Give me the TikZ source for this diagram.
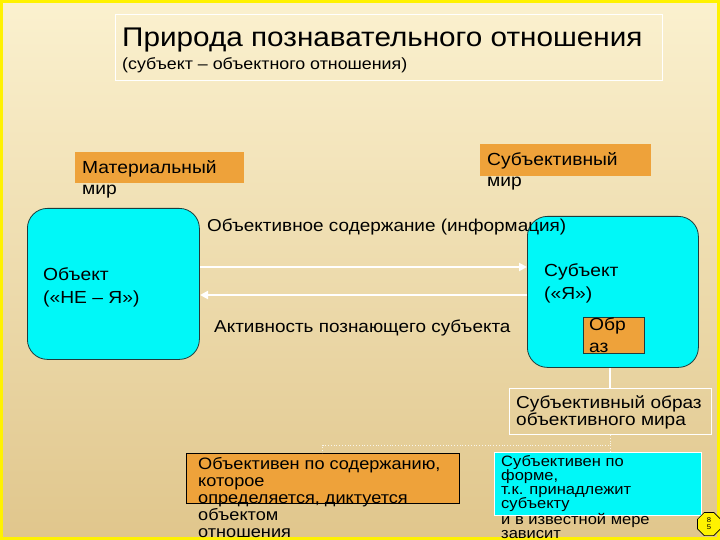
\documentclass[tikz,border=0pt]{standalone}
\usepackage{fontspec}
\setmainfont[FakeStretch=1.1]{Liberation Sans}
\usetikzlibrary{shapes.geometric,arrows.meta}
\definecolor{bgtop}{HTML}{FBF1CF}
\definecolor{bgbot}{HTML}{E0C68C}
\definecolor{orng}{HTML}{EEA23A}
\definecolor{cyanbox}{HTML}{00F8F8}
\definecolor{edge}{HTML}{1E3C3C}
\tikzset{
  orbox/.style={draw=none, fill=orng, inner sep=0pt, anchor=north west},
  bigbox/.style={draw=edge, fill=cyanbox, rounded corners=20pt, line width=0.8pt, inner sep=0pt, anchor=north west},
  txt/.style={anchor=base west, inner sep=0pt, align=left},
  arr/.style={draw=white, line width=2pt, -{Triangle[length=8pt,width=8pt]}},
  thinwhite/.style={draw=white, line width=1pt},
}
\begin{document}
\begin{tikzpicture}[x=1pt,y=-1pt]
\useasboundingbox (0,0) rectangle (720,540);
\shade[top color=bgtop, bottom color=bgbot] (0,0) rectangle (720,540);
\draw[yellow, line width=3pt] (1.5,1.5) rectangle (718.5,538.5);

% title
\node[thinwhite, draw, anchor=north west, minimum width=547pt, minimum height=66pt, inner sep=0pt] (title) at (115,14) {};
\node[txt, font=\fontsize{27}{30}\selectfont] (t1) at (122,47) {Природа познавательного отношения};
\node[txt, font=\fontsize{16.2}{18}\selectfont] (t2) at (122,70) {(субъект – объектного отношения)};

% world labels
\node[orbox, minimum width=169pt, minimum height=31pt] (matbox) at (75,152) {};
\node[txt, font=\fontsize{17.5}{21}\selectfont] (mat) at (82,195) {Материальный\\мир};
\node[orbox, minimum width=171pt, minimum height=32pt] (subbox) at (480,144) {};
\node[txt, font=\fontsize{17.5}{21}\selectfont] (sub) at (487,187) {Субъективный\\мир};

% main boxes
\node[bigbox, minimum width=172pt, minimum height=151pt] (obj) at (27,208) {};
\node[bigbox, minimum width=171pt, minimum height=151pt] (subj) at (527,216) {};
\node[txt, font=\fontsize{17.5}{23}\selectfont] (objt) at (43,303) {Объект\\(«НЕ – Я»)};
\node[txt, font=\fontsize{17.5}{23}\selectfont] (subjt) at (544,299) {Субъект\\(«Я»)};

% image box
\node[draw=edge, fill=orng, line width=0.6pt, anchor=north west, minimum width=61pt, minimum height=36pt, inner sep=0pt] (obraz) at (583,317) {};
\node[txt, font=\fontsize{17.5}{22}\selectfont] (obrazt) at (589,352) {Обр\\аз};

% arrows
\coordinate (a1s) at (200,267);
\coordinate (a2e) at (200,295);
\draw[arr] (a1s) -- (a1s -| subj.west);
\draw[arr] (a2e -| subj.west) -- (a2e);
\node[txt, font=\fontsize{17.2}{22}\selectfont] (lab1) at (207,232) {Объективное содержание (информация)};
\node[txt, font=\fontsize{17.2}{22}\selectfont] (lab2) at (214,332) {Активность познающего субъекта};

% subjective image of objective world
\node[thinwhite, draw, anchor=north west, minimum width=202pt, minimum height=46pt, inner sep=0pt] (sobr) at (509,388) {};
\node[txt, font=\fontsize{17.3}{17}\selectfont] (sobrt) at (516,425) {Субъективный образ\\объективного мира};
\coordinate (vx) at (610,0);
\draw[thinwhite, line width=1.5pt] (subj.south -| vx) -- (sobr.north -| vx);

% bottom boxes
\node[draw=black, fill=orng, line width=0.6pt, anchor=north west, minimum width=273pt, minimum height=50pt, inner sep=0pt] (lb) at (186,453) {};
\node[draw=white, fill=cyanbox, line width=0.8pt, anchor=north west, minimum width=207pt, minimum height=63pt, inner sep=0pt] (rb) at (494,452) {};
\tikzset{btxt/.style={txt, font=\fontsize{16.5}{17}\selectfont},
         rtxt/.style={txt, font=\fontsize{15}{15}\selectfont}}
\node[btxt] (l1) at (198,469) {Объективен по содержанию,};
\node[btxt] (l2) at (198,486) {которое};
\node[btxt] (l3) at (198,503) {определяется, диктуется};
\node[btxt] (l4) at (198,520) {объектом};
\node[btxt] (l5) at (198,537) {отношения};
\node[rtxt] (r1) at (501,466) {Субъективен по};
\node[rtxt] (r2) at (501,480) {форме,};
\node[rtxt] (r3) at (501,494) {т.к. принадлежит};
\node[rtxt] (r4) at (501,508) {субъекту};
\node[rtxt] (r5) at (501,524) {и в известной мере};
\node[rtxt] (r6) at (501,538) {зависит};

% dotted connector
\coordinate (dj) at (610,445);
\draw[white, dotted, line width=0.8pt, opacity=0.8] (sobr.south -| dj) -- (dj) -- (dj -| lb.north) -- (lb.north);
\draw[white, dotted, line width=0.8pt, opacity=0.8] (dj) -- (rb.north -| dj);

% page number
\node[regular polygon, regular polygon sides=8, draw=black, fill=yellow, minimum size=25pt, inner sep=0pt, line width=0.6pt] (pg) at (709,524) {};
\node[font=\fontsize{7}{7}\selectfont, align=center, inner sep=0pt] (pgt) at (pg.center) {8\\5};
\end{tikzpicture}
\end{document}
